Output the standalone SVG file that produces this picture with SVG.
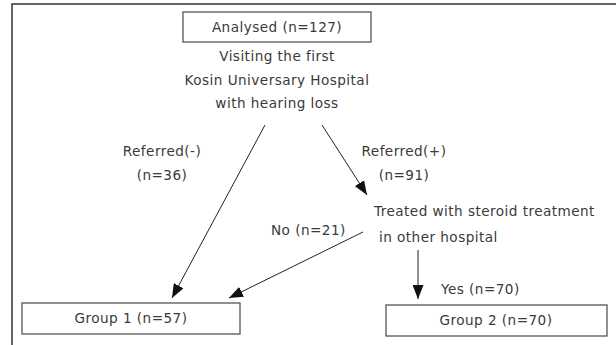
<svg xmlns="http://www.w3.org/2000/svg" width="616" height="345" viewBox="0 0 616 345">
<defs>
<marker id="ah" viewBox="0 0 14 11" refX="14" refY="5.5" markerWidth="14" markerHeight="11" markerUnits="userSpaceOnUse" orient="auto">
<path d="M0,0 L14,5.5 L0,11 z" fill="#111"/>
</marker>
<style>
text{font-family:"DejaVu Sans","Liberation Sans",sans-serif;font-size:13.6px;letter-spacing:0.45px;fill:#3a3a3a}
.c{text-anchor:middle}
.box{fill:#fff;stroke:#555;stroke-width:1.3}
.ln{stroke:#222;stroke-width:1;fill:none;marker-end:url(#ah)}
.frame{stroke:#333;stroke-width:1.5;fill:none}
</style>
</defs>
<rect width="616" height="345" fill="#fff"/>
<path class="frame" d="M12,345 V4 H616"/>
<g id="connectors">
<line class="ln" x1="265" y1="125" x2="172" y2="298"/>
<line class="ln" x1="322" y1="125" x2="367" y2="195"/>
<line class="ln" x1="363" y1="232" x2="229" y2="298"/>
<line class="ln" x1="418" y1="250" x2="418" y2="299"/>
</g>
<g id="analysed">
<rect class="box" x="183" y="12" width="188" height="30"/>
<text class="c" x="277" y="32">Analysed (n=127)</text>
</g>
<g id="visiting">
<text class="c" x="277" y="61">Visiting the first</text>
<text class="c" x="277" y="85">Kosin Universary Hospital</text>
<text class="c" x="277" y="108">with hearing loss</text>
</g>
<g id="label-ref-neg">
<text class="c" x="162" y="156">Referred(-)</text>
<text class="c" x="162" y="180">(n=36)</text>
</g>
<g id="label-ref-pos">
<text class="c" x="404" y="156">Referred(+)</text>
<text class="c" x="404" y="180">(n=91)</text>
</g>
<g id="treated">
<text x="374" y="216">Treated with steroid treatment</text>
<text x="379" y="242">in other hospital</text>
</g>
<g id="label-no">
<text x="271" y="235">No (n=21)</text>
</g>
<g id="label-yes">
<text x="441" y="294">Yes (n=70)</text>
</g>
<g id="group1">
<rect class="box" x="22" y="303" width="218" height="31"/>
<text class="c" x="131" y="323">Group 1 (n=57)</text>
</g>
<g id="group2">
<rect class="box" x="386" y="305" width="221" height="31"/>
<text class="c" x="496" y="325">Group 2 (n=70)</text>
</g>
</svg>
